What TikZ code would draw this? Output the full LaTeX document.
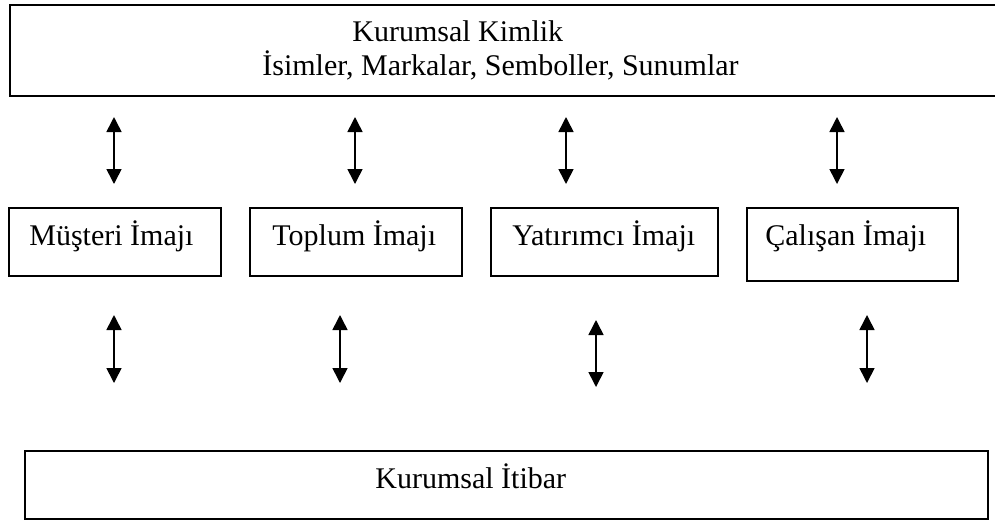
\documentclass[tikz,border=0pt]{standalone}
\usepackage{fontspec}
\setmainfont{Liberation Serif}
\usetikzlibrary{arrows.meta}
\begin{document}
\begin{tikzpicture}[x=0.5pt,y=-0.5pt,
  box/.style={draw, line width=1pt, inner sep=0pt, anchor=north west},
  label/.style={inner sep=0pt, anchor=base west, font=\fontsize{15}{18}\selectfont},
  dblarrow/.style={line width=0.8pt,
    {Triangle[length=7.5pt,width=7.5pt]}-{Triangle[length=7.5pt,width=7.5pt]}}]
\useasboundingbox (0,0) rectangle (995,521);
\clip (0,0) rectangle (995,521);

% Corporate identity (top band, open on the right)
\node[box, minimum width=495.5pt, minimum height=45.5pt] (kimlik) at (9,4) {};
\node[label] (kimlik1) at (352,41) {Kurumsal Kimlik};
\node[label] (kimlik2) at (262,75) {İsimler, Markalar, Semboller, Sunumlar};

% Image boxes
\node[box, minimum width=106pt, minimum height=34pt] (musteri) at (8,207) {};
\node[label] (musteriT) at (29,245) {Müşteri İmajı};
\node[box, minimum width=106pt, minimum height=34pt] (toplum) at (249,207) {};
\node[label] (toplumT) at (272,245) {Toplum İmajı};
\node[box, minimum width=113.5pt, minimum height=34pt] (yatirimci) at (490,207) {};
\node[label] (yatirimciT) at (512,245) {Yatırımcı İmajı};
\node[box, minimum width=105.5pt, minimum height=36.5pt] (calisan) at (746,207) {};
\node[label] (calisanT) at (765,245) {Çalışan İmajı};

% Corporate reputation (bottom band)
\node[box, minimum width=481.5pt, minimum height=34pt] (itibar) at (24,450) {};
\node[label] (itibarT) at (375,488) {Kurumsal İtibar};

% Arrow end points, upper row
\coordinate (u1a) at (114,117); \coordinate (u1b) at (114,184);
\coordinate (u2a) at (355,117); \coordinate (u2b) at (355,184);
\coordinate (u3a) at (566,117); \coordinate (u3b) at (566,184);
\coordinate (u4a) at (837,117); \coordinate (u4b) at (837,184);
% Arrow end points, lower row
\coordinate (l1a) at (114,315); \coordinate (l1b) at (114,383);
\coordinate (l2a) at (340,315); \coordinate (l2b) at (340,383);
\coordinate (l3a) at (596,320); \coordinate (l3b) at (596,387);
\coordinate (l4a) at (867,315); \coordinate (l4b) at (867,383);

\foreach \r in {u,l}{
  \foreach \i in {1,2,3,4}{
    \draw[dblarrow] (\r\i a) -- (\r\i b);
  }
}
\end{tikzpicture}
\end{document}
